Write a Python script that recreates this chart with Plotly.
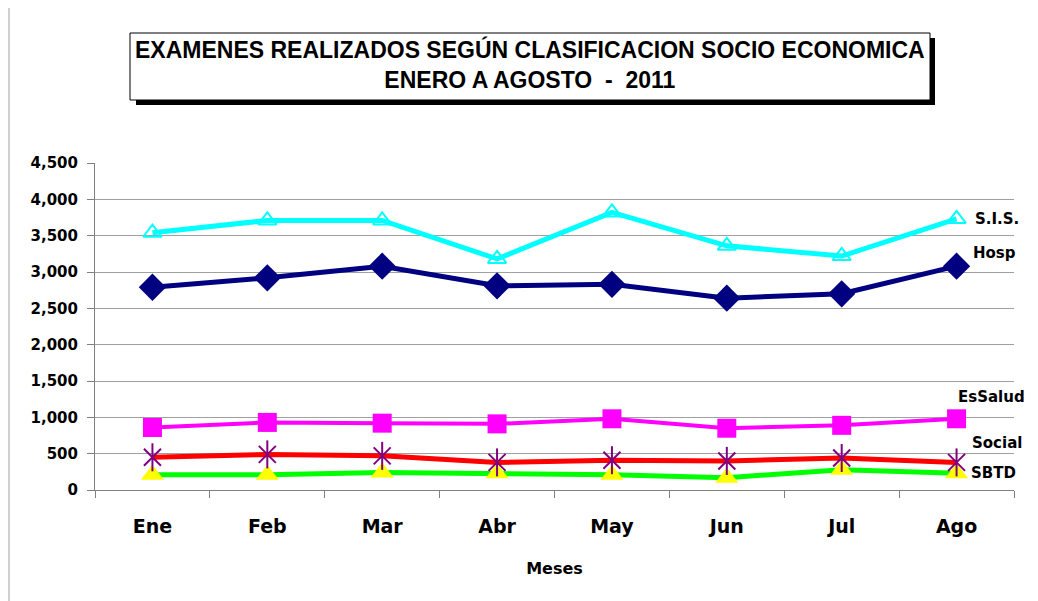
import plotly.graph_objects as go

meses = ["Ene", "Feb", "Mar", "Abr", "May", "Jun", "Jul", "Ago"]

sis = [3540, 3710, 3710, 3180, 3820, 3360, 3220, 3730]
hosp = [2790, 2920, 3080, 2810, 2830, 2640, 2700, 3080]
essalud = [860, 930, 920, 910, 980, 850, 890, 980]
social = [450, 490, 470, 380, 410, 400, 440, 380]
sbtd = [210, 210, 240, 230, 210, 170, 280, 230]

# page has an 8px body margin, so the figure is drawn 8px smaller
OFF = 8
W, H = 1038 - OFF, 601 - OFF
L, R, T, B = 95 - OFF, 24, 163 - OFF, 111

fig = go.Figure()

# SBTD
fig.add_trace(go.Scatter(
    x=meses, y=sbtd, mode="lines+markers", name="SBTD",
    line=dict(color="#00FF00", width=5),
    marker=dict(symbol="triangle-up", size=20, color="#FFFF00"),
    cliponaxis=False))

# Social (red line, purple star markers)
fig.add_trace(go.Scatter(
    x=meses, y=social, mode="lines+markers", name="Social",
    line=dict(color="#FF0000", width=5),
    marker=dict(symbol="x-thin-open", size=17, color="#800080",
                line=dict(color="#800080", width=2)),
    cliponaxis=False))
fig.add_trace(go.Scatter(
    x=meses, y=social, mode="markers", showlegend=False,
    marker=dict(symbol="line-ns-open", size=20, color="#800080",
                line=dict(color="#800080", width=2)),
    cliponaxis=False))

# EsSalud
fig.add_trace(go.Scatter(
    x=meses, y=essalud, mode="lines+markers", name="EsSalud",
    line=dict(color="#FF00FF", width=4),
    marker=dict(symbol="square", size=19, color="#FF00FF"),
    cliponaxis=False))

# Hosp
fig.add_trace(go.Scatter(
    x=meses, y=hosp, mode="lines+markers", name="Hosp",
    line=dict(color="#000080", width=5),
    marker=dict(symbol="diamond", size=21, color="#000080"),
    cliponaxis=False))

# S.I.S.
fig.add_trace(go.Scatter(
    x=meses, y=sis, mode="lines+markers", name="S.I.S.",
    line=dict(color="#00FFFF", width=5),
    marker=dict(symbol="triangle-up-open", size=16, color="#00FFFF",
                line=dict(color="#00FFFF", width=2)),
    cliponaxis=False))

# series labels next to the last point
lbl_font = dict(family="DejaVu Sans", size=15, color="black")
labels = [("S.I.S.", sis[-1], 16, 0), ("Hosp", hosp[-1], 14, 13),
          ("EsSalud", essalud[-1], -1, 22), ("Social", social[-1], 13, 19),
          ("SBTD", sbtd[-1], 12, 0)]
for txt, yv, xs, ys in labels:
    fig.add_annotation(x=meses[-1], y=yv, text="<b>%s</b>" % txt, showarrow=False,
                       xanchor="left", yanchor="middle", xshift=xs, yshift=ys,
                       font=lbl_font)

# title box with shadow (positions in page pixels)
def px_x(p):
    return (p - OFF - L) / (W - L - R)

def px_y(p):
    return (H - B - (p - OFF)) / (H - T - B)

fig.add_shape(type="rect", xref="paper", yref="paper",
              x0=px_x(136), x1=px_x(935), y0=px_y(105), y1=px_y(38),
              fillcolor="black", line=dict(width=0))
fig.add_shape(type="rect", xref="paper", yref="paper",
              x0=px_x(130), x1=px_x(930), y0=px_y(100), y1=px_y(33),
              fillcolor="white", line=dict(color="black", width=1))
fig.add_annotation(xref="paper", yref="paper", x=px_x(530), y=px_y(65),
                   xanchor="center", yanchor="middle",
                   text="<b>EXAMENES REALIZADOS SEGÚN CLASIFICACION SOCIO ECONOMICA<br>ENERO A AGOSTO  -  2011</b>",
                   showarrow=False, align="center",
                   font=dict(family="Liberation Sans, Arial", size=23, color="black"))

# outer chart border (left edge visible)
fig.add_shape(type="line", xref="paper", yref="paper",
              x0=px_x(9), x1=px_x(9), y0=px_y(8), y1=px_y(601),
              line=dict(color="#A0A0A0", width=1))

fig.update_xaxes(
    type="category", range=[-0.5, 7.5],
    showline=True, linecolor="#808080", linewidth=1,
    ticks="outside", tickson="boundaries", ticklen=7, tickcolor="#808080",
    showgrid=False, ticklabelstandoff=19,
    tickfont=dict(family="DejaVu Sans", size=19, color="black"),
    title=dict(text="<b>Meses</b>", font=dict(family="DejaVu Sans", size=16, color="black"),
               standoff=27))
fig.update_yaxes(
    range=[0, 4500], dtick=500, tickformat=",d",
    showline=True, linecolor="#808080", linewidth=1,
    ticks="outside", ticklen=7, tickcolor="#808080",
    showgrid=True, gridcolor="#A0A0A0", gridwidth=1,
    ticklabelstandoff=6,
    tickfont=dict(family="DejaVu Sans", size=15, color="black"),
    zeroline=False)

fig.update_layout(
    width=W, height=H,
    margin=dict(l=L, r=R, t=T, b=B, autoexpand=False),
    paper_bgcolor="white", plot_bgcolor="white",
    showlegend=False,
    font=dict(family="DejaVu Sans", color="black"),
)
fig.for_each_xaxis(lambda a: a.update(tickprefix="<b>", ticksuffix="</b>"))
fig.for_each_yaxis(lambda a: a.update(tickprefix="<b>", ticksuffix="</b>"))

fig.write_html("out.html")
